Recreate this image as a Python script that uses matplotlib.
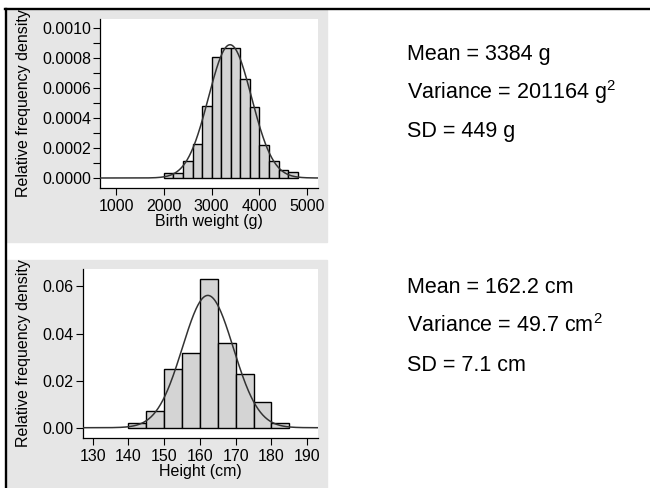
import numpy as np
import matplotlib.pyplot as plt
import matplotlib.transforms as mtransforms
from matplotlib.patches import Rectangle
from matplotlib.lines import Line2D
from matplotlib.ticker import MultipleLocator, FormatStrFormatter

plt.rcParams['font.family'] = ['Liberation Sans', 'DejaVu Sans']
plt.rcParams['mathtext.fontset'] = 'custom'
plt.rcParams['mathtext.rm'] = 'Liberation Sans'

# birth weight histogram (200 g bins)
bw_edges = [2000, 2200, 2400, 2600, 2800, 3000, 3200, 3400, 3600, 3800, 4000, 4200, 4400, 4600]
bw_density = [0.000035, 0.00003, 0.000111, 0.000227, 0.000482, 0.000807, 0.000867,
              0.000867, 0.000662, 0.000473, 0.000218, 0.000111, 0.000056, 0.000038]
bw_mean = 3384
bw_sd = 449
bw_lines = ['Mean = 3384 g', r'Variance = 201164 g$^\mathrm{2}$', 'SD = 449 g']

# height histogram (5 cm bins)
ht_edges = [140, 145, 150, 155, 160, 165, 170, 175, 180]
ht_density = [0.0018, 0.0073, 0.0251, 0.0316, 0.0631, 0.0361, 0.0226, 0.0109, 0.0018]
ht_mean = 162.2
ht_sd = 7.1
ht_lines = ['Mean = 162.2 cm', r'Variance = 49.7 cm$^\mathrm{2}$', 'SD = 7.1 cm']

W, H = 650, 488


def fx(px):
    return px / W


def fy(py):
    return 1 - py / H


def draw_hist(fig, rect, edges, dens, width, mu, sd, xlim, ylim, xticks, yticks, fmt, minor, xlabel):
    ax = fig.add_axes(rect)
    ax.bar(edges, dens, width=width, align='edge', color='#d4d4d4', edgecolor='black', linewidth=1.0, zorder=2)
    xs = np.linspace(xlim[0], xlim[1], 400)
    ys = np.exp(-0.5 * ((xs - mu) / sd) ** 2) / (sd * np.sqrt(2 * np.pi))
    ax.plot(xs, ys, color='#333333', lw=1.1, zorder=3)
    ax.set_xlim(xlim)
    ax.set_ylim(ylim)
    ax.set_xticks(xticks)
    ax.set_yticks(yticks)
    ax.yaxis.set_major_formatter(FormatStrFormatter(fmt))
    if minor:
        ax.yaxis.set_minor_locator(MultipleLocator(minor))
    ax.tick_params(which='both', length=5, width=0.8, labelsize=11.5, pad=1.5)
    ax.tick_params(axis='x', pad=3)
    for s in ['top', 'right']:
        ax.spines[s].set_visible(False)
    for s in ['left', 'bottom']:
        ax.spines[s].set_linewidth(0.9)
    ax.set_facecolor('white')
    ax.set_xlabel(xlabel, fontsize=11.5, labelpad=0)
    ax.set_ylabel('Relative frequency density', fontsize=11.5)
    trans = mtransforms.blended_transform_factory(fig.transFigure, ax.transAxes)
    ax.yaxis.set_label_coords(fx(31), 0.5, transform=trans)
    return ax


def main():
    fig = plt.figure(figsize=(6.5, 4.88), dpi=100)
    fig.patch.set_facecolor('white')

    # gray panels
    fig.patches.append(Rectangle((fx(7.3), fy(242)), fx(326.7 - 7.3), 232 / H,
                                 transform=fig.transFigure, color='#e6e6e6', zorder=-1))
    fig.patches.append(Rectangle((fx(7.3), 0), fx(326.7 - 7.3), 228 / H,
                                 transform=fig.transFigure, color='#e6e6e6', zorder=-1))

    # frame lines
    fig.lines.append(Line2D([fx(5), 1], [fy(9.3), fy(9.3)], transform=fig.transFigure, color='black', lw=1.7))
    fig.lines.append(Line2D([fx(6), fx(6)], [fy(9.3), 0], transform=fig.transFigure, color='black', lw=1.7))

    draw_hist(fig, [fx(100), fy(188), fx(218.3), 169 / H], bw_edges, bw_density, 200, bw_mean, bw_sd,
              (665, 5230), (-0.0000667, 0.00106), [1000, 2000, 3000, 4000, 5000],
              np.arange(0, 0.00101, 0.0002), '%.4f', 0.0001, 'Birth weight (g)')

    draw_hist(fig, [fx(82.7), fy(437.7), fx(318.3 - 82.7), 168.7 / H], ht_edges, ht_density, 5, ht_mean, ht_sd,
              (127.2, 193.1), (-0.00424, 0.0674), [130, 140, 150, 160, 170, 180, 190],
              [0, 0.02, 0.04, 0.06], '%.2f', None, 'Height (cm)')

    for lines, base in [(bw_lines, 60), (ht_lines, 293.3)]:
        for i, t in enumerate(lines):
            fig.text(fx(406.7), fy(base + i * 38.7), t, fontsize=15.5, va='baseline', ha='left')

    fig.savefig('out.png', dpi=100)


if __name__ == '__main__':
    main()
